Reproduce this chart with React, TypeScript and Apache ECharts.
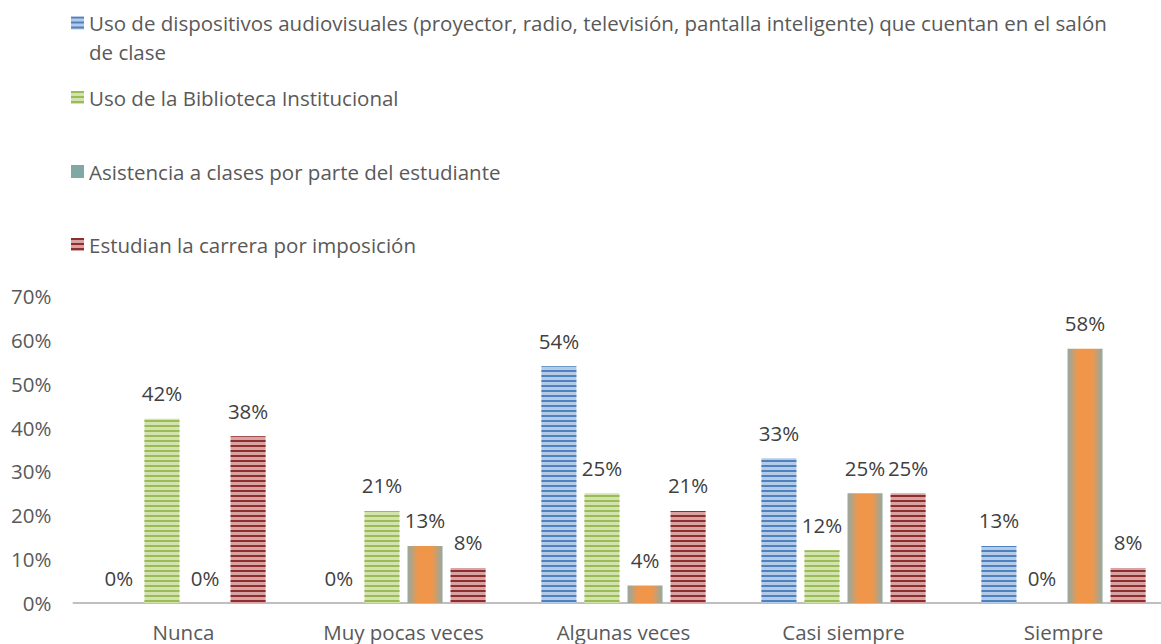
import React, { useEffect, useRef } from "react";
import * as echarts from "echarts";

const categories = ["Nunca", "Muy pocas veces", "Algunas veces", "Casi siempre", "Siempre"];
const seriesNames = [
  "Uso de dispositivos audiovisuales (proyector, radio, televisión, pantalla inteligente) que cuentan en el salón de clase",
  "Uso de la Biblioteca Institucional",
  "Asistencia a clases por parte del estudiante",
  "Estudian la carrera por imposición",
];
const dispositivos = [0, 0, 54, 33, 13];
const biblioteca = [42, 21, 25, 12, 0];
const asistencia = [0, 13, 4, 25, 58];
const imposicion = [38, 8, 21, 25, 8];
const yTicks = [0, 10, 20, 30, 40, 50, 60, 70];

const FONT = "'Open Sans', sans-serif";
const FS = 20.5;

export default function App() {
  const ref = useRef<HTMLDivElement>(null);
  useEffect(() => {
    if (!ref.current) return;
    const chart = echarts.init(ref.current, null, { renderer: "svg" });
    const striped = (light: string, dark: string) => ({
      color: light,
      decal: {
        symbol: "rect",
        symbolSize: 1,
        dashArrayX: [5, 0],
        dashArrayY: [2, 2.4],
        rotation: 0,
        color: dark,
      },
    });
    const label = {
      show: true,
      position: "top",
      distance: 15,
      formatter: "{c}%",
      color: "#404040",
      fontSize: FS,
      fontFamily: FONT,
    };
    const base = {
      type: "bar",
      barWidth: 35,
      barGap: "23%",
      label,
    };
    const legendCommon = {
      orient: "vertical",
      left: 71,
      padding: 0,
      icon: "rect",
      itemWidth: 13,
      itemHeight: 13,
      selectedMode: false,
      textStyle: { color: "#595959", fontSize: FS, fontFamily: FONT, lineHeight: 29 },
    };
    chart.setOption({
      animation: false,
      legend: [
        {
          ...legendCommon,
          top: -20.5,
          data: [seriesNames[0]],
          formatter: (n: string) => " \n" + n.replace(" de clase", "\nde clase"),
        },
        { ...legendCommon, top: 83, data: [seriesNames[1]] },
        {
          ...legendCommon,
          top: 157,
          data: [{ name: seriesNames[2], itemStyle: { color: "#80A9A6" } }],
        },
        { ...legendCommon, top: 230, data: [seriesNames[3]] },
      ],
      grid: { left: 73.5, top: 296, width: 1100, height: 307, containLabel: false },
      xAxis: {
        type: "category",
        data: categories,
        axisLine: { lineStyle: { color: "#BFBFBF", width: 2 } },
        axisTick: { show: false },
        axisLabel: { color: "#595959", fontSize: FS, fontFamily: FONT, margin: 18 },
      },
      yAxis: {
        type: "value",
        min: yTicks[0],
        max: yTicks[yTicks.length - 1],
        interval: 10,
        splitLine: { show: false },
        axisLine: { show: false },
        axisTick: { show: false },
        axisLabel: { color: "#595959", fontSize: FS, fontFamily: FONT, margin: 22, formatter: "{value}%" },
      },
      series: [
        { ...base, name: seriesNames[0], data: dispositivos, itemStyle: striped("#B3CBE8", "#4F81BD") },
        { ...base, name: seriesNames[1], data: biblioteca, itemStyle: striped("#D3E3AE", "#9BBB59") },
        {
          ...base,
          name: seriesNames[2],
          data: asistencia,
          itemStyle: {
            color: {
              type: "linear",
              x: 0, y: 0, x2: 1, y2: 0,
              colorStops: [
                { offset: 0, color: "#92A9A3" },
                { offset: 0.3, color: "#F0964A" },
                { offset: 0.7, color: "#F0964A" },
                { offset: 1, color: "#92A9A3" },
              ],
            },
          },
        },
        { ...base, name: seriesNames[3], data: imposicion, itemStyle: striped("#D9A3A3", "#8C2F2E") },
      ],
    });
    return () => chart.dispose();
  }, []);
  return (
    <div style={{ position: "fixed", left: 0, top: 0, width: 1161, height: 644, overflow: "hidden", background: "#fff" }}>
      <div ref={ref} style={{ width: 1190, height: 644 }} />
    </div>
  );
}
